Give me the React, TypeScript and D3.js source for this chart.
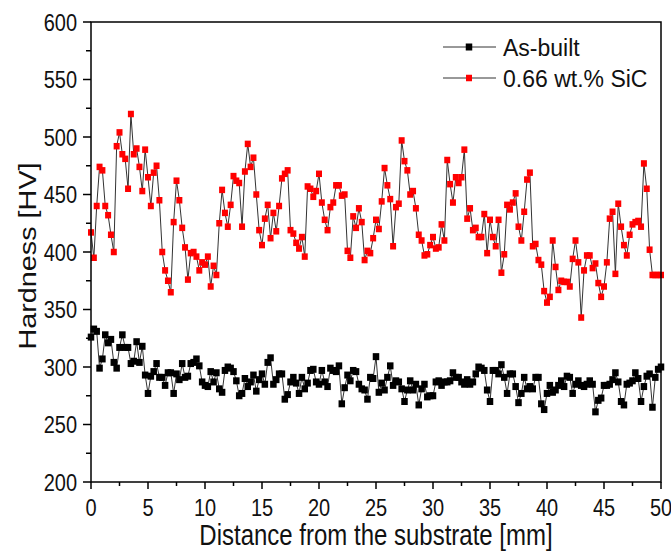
import React from "react";
import * as d3 from "d3";

const STEP_MM = 0.25;

const asBuilt: number[] = [
  326, 333, 331, 299, 307, 328, 321, 324, 304, 299, 317, 328, 317, 317, 303, 305, 322, 304, 318, 293,
  277, 292, 296, 303, 291, 291, 284, 295, 295, 277, 294, 289, 303, 291, 292, 303, 304, 307, 301, 287,
  284, 283, 296, 287, 295, 281, 278, 297, 300, 299, 296, 288, 275, 277, 290, 283, 287, 293, 279, 289,
  294, 285, 304, 308, 285, 289, 294, 294, 272, 276, 287, 291, 286, 277, 291, 281, 286, 297, 298, 287,
  285, 297, 287, 283, 299, 297, 296, 301, 268, 282, 293, 288, 297, 296, 285, 281, 280, 272, 291, 290,
  309, 278, 286, 280, 291, 301, 284, 288, 287, 281, 270, 280, 288, 280, 285, 267, 281, 285, 274, 275,
  275, 287, 288, 284, 287, 287, 288, 295, 291, 291, 287, 285, 289, 285, 287, 294, 300, 299, 297, 280,
  270, 297, 297, 294, 302, 291, 277, 294, 294, 283, 269, 277, 291, 281, 283, 281, 291, 291, 268, 263,
  277, 284, 278, 280, 284, 288, 283, 292, 291, 277, 285, 288, 284, 283, 285, 288, 285, 261, 271, 273,
  284, 284, 285, 289, 295, 287, 270, 267, 285, 286, 288, 295, 290, 270, 283, 292, 294, 265, 291, 298,
  300,
];

const sic066: number[] = [
  417, 395, 440, 474, 471, 440, 432, 415, 400, 492, 504, 485, 481, 455, 520, 485, 490, 474, 453, 489,
  465, 440, 469, 475, 445, 400, 384, 375, 365, 426, 462, 445, 421, 404, 376, 399, 400, 396, 384, 391,
  389, 396, 370, 388, 380, 425, 454, 434, 422, 441, 466, 462, 460, 422, 470, 494, 474, 482, 450, 419,
  406, 429, 441, 412, 434, 418, 440, 464, 468, 471, 419, 416, 408, 403, 413, 396, 457, 455, 448, 453,
  468, 443, 428, 419, 439, 443, 458, 458, 449, 450, 401, 395, 431, 421, 438, 426, 393, 401, 399, 412,
  428, 420, 444, 473, 458, 446, 405, 439, 442, 497, 479, 471, 450, 453, 438, 415, 410, 397, 398, 406,
  413, 403, 404, 424, 410, 480, 459, 443, 465, 460, 465, 489, 429, 438, 419, 421, 413, 413, 433, 399,
  428, 413, 405, 428, 382, 398, 441, 437, 443, 451, 422, 410, 435, 463, 469, 405, 407, 393, 389, 366,
  356, 361, 410, 387, 367, 375, 374, 374, 370, 394, 410, 391, 343, 384, 397, 397, 386, 390, 373, 361,
  370, 391, 429, 435, 381, 442, 422, 406, 397, 415, 424, 426, 427, 422, 477, 455, 402, 380, 380, 380,
  380,
];

const seriesNames = ["As-built", "0.66 wt.% SiC"];
const xTicks = [0, 5, 10, 15, 20, 25, 30, 35, 40, 45, 50];
const yTicks = [200, 250, 300, 350, 400, 450, 500, 550, 600];
const xTitle = "Distance from the substrate [mm]";
const yTitle = "Hardness [HV]";

const W = 671;
const H = 554;
const left = 91;
const right = 661;
const top = 22;
const bottom = 482;
const FONT = "'Liberation Sans', Arial, sans-serif";
const STRETCH = 1.2;

export default function App() {
  const x = d3.scaleLinear().domain([0, 50]).range([left, right]);
  const y = d3.scaleLinear().domain([200, 600]).range([bottom, top]);

  const toPts = (vals: number[]) => vals.map((v, i) => [i * STEP_MM, v] as [number, number]);
  const line = d3
    .line<[number, number]>()
    .x((d) => x(d[0]))
    .y((d) => y(d[1]));

  const series = [
    { name: seriesNames[0], data: toPts(asBuilt), color: "#000000", w: 6.5, h: 7 },
    { name: seriesNames[1], data: toPts(sic066), color: "#ff0000", w: 6, h: 6.5 },
  ];

  const xMinor = d3.range(0, 50.01, 2.5).filter((v) => v % 5 !== 0);
  const yMinor = d3.range(200, 600.01, 25).filter((v) => v % 50 !== 0);

  return (
    <svg
      width={W}
      height={H}
      style={{ position: "absolute", left: 0, top: 0, background: "#fff" }}
      fontFamily={FONT}
    >
      <rect x={0} y={0} width={W} height={H} fill="#fff" />
      {series.map((s) => (
        <g key={s.name}>
          <path d={line(s.data) || ""} fill="none" stroke="#333" strokeWidth={1} />
          {s.data.map((d, i) => (
            <rect
              key={i}
              x={x(d[0]) - s.w / 2}
              y={y(d[1]) - s.h / 2}
              width={s.w}
              height={s.h}
              fill={s.color}
            />
          ))}
        </g>
      ))}
      <rect x={left} y={top} width={right - left} height={bottom - top} fill="none" stroke="#000" strokeWidth={1.5} />
      {xTicks.map((t) => (
        <g key={"xt" + t}>
          <line x1={x(t)} x2={x(t)} y1={bottom} y2={bottom + 7} stroke="#000" strokeWidth={1.5} />
          <text
            transform={`translate(${x(t)},516) scale(1,${STRETCH})`}
            fontSize={20}
            textAnchor="middle"
            fill="#111"
          >
            {t}
          </text>
        </g>
      ))}
      {xMinor.map((t) => (
        <line key={"xm" + t} x1={x(t)} x2={x(t)} y1={bottom} y2={bottom + 4} stroke="#000" strokeWidth={1.5} />
      ))}
      {yTicks.map((t) => (
        <g key={"yt" + t}>
          <line x1={left - 8} x2={left} y1={y(t)} y2={y(t)} stroke="#000" strokeWidth={1.5} />
          <text
            transform={`translate(${left - 14},${y(t) + 8.5}) scale(1,${STRETCH})`}
            fontSize={20}
            textAnchor="end"
            fill="#111"
          >
            {t}
          </text>
        </g>
      ))}
      {yMinor.map((t) => (
        <line key={"ym" + t} x1={left - 5} x2={left} y1={y(t)} y2={y(t)} stroke="#000" strokeWidth={1.5} />
      ))}
      <text
        transform={`translate(${(left + right) / 2},545) scale(1,${STRETCH})`}
        fontSize={24}
        textAnchor="middle"
        fill="#111"
      >
        {xTitle}
      </text>
      <text
        transform={`translate(36,256) scale(1,${STRETCH}) rotate(-90)`}
        fontSize={24}
        textAnchor="middle"
        fill="#111"
      >
        {yTitle}
      </text>
      {series.map((s, i) => {
        const cy = 47 + i * 31;
        return (
          <g key={"lg" + i}>
            <line x1={443} x2={496} y1={cy} y2={cy} stroke="#333" strokeWidth={1} />
            <rect x={469 - s.w / 2} y={cy - s.h / 2} width={s.w} height={s.h} fill={s.color} />
            <text x={503} y={cy + 8.5} fontSize={23} fill="#111">
              {s.name}
            </text>
          </g>
        );
      })}
    </svg>
  );
}
